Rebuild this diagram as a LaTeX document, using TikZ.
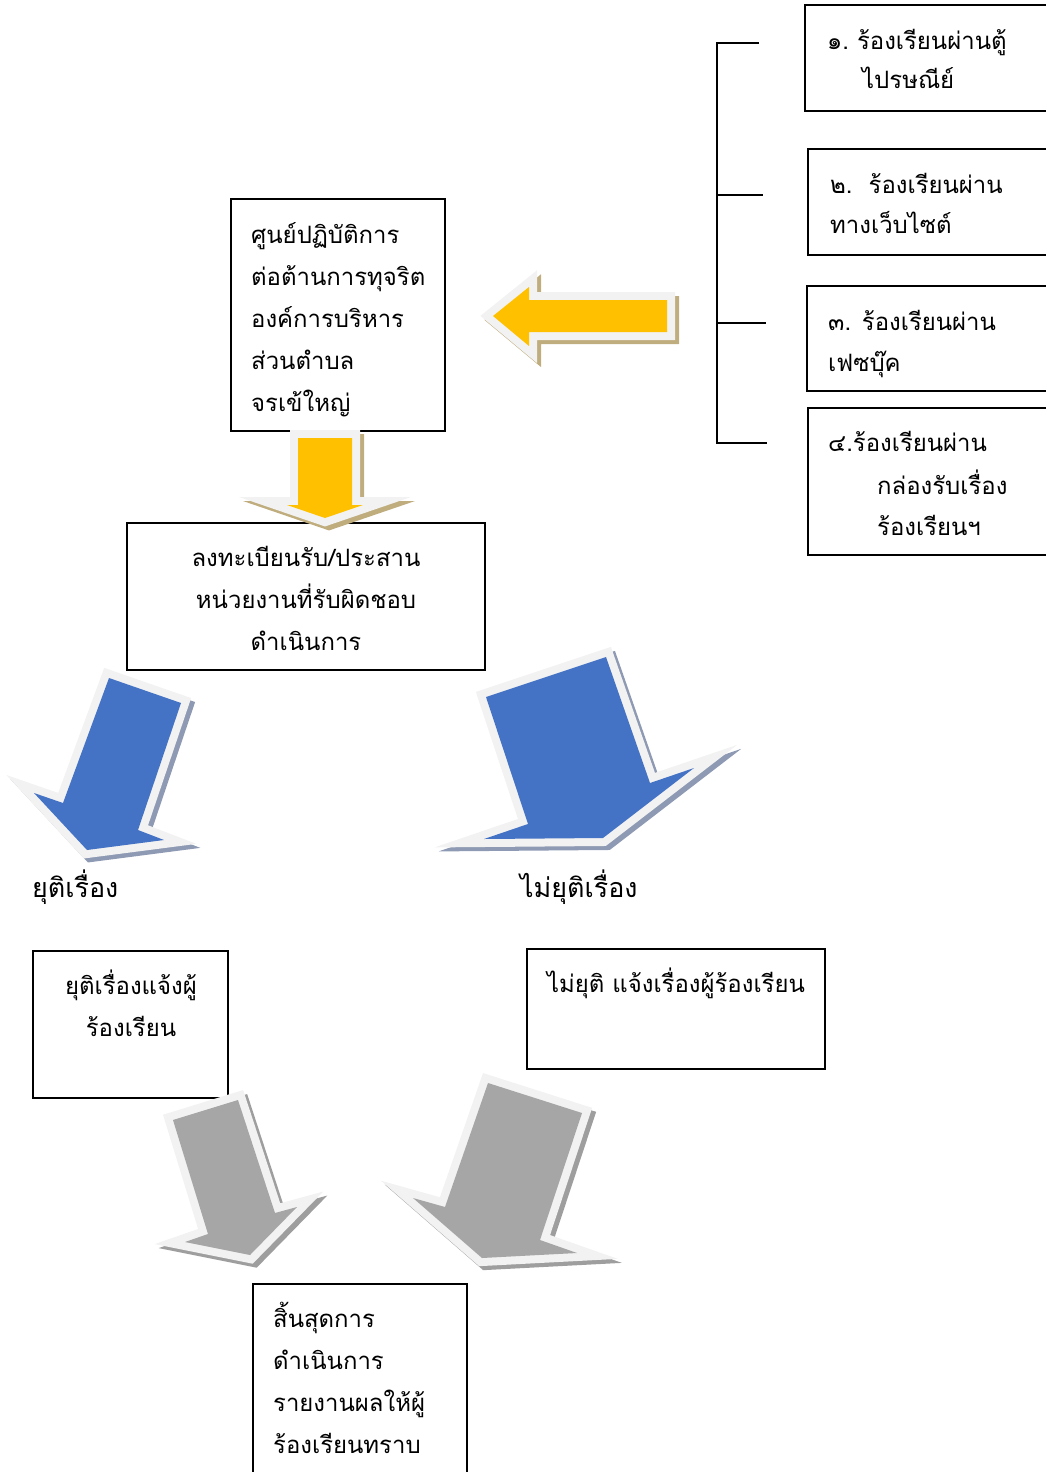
\documentclass[tikz,border=0pt]{standalone}
\usepackage{fontspec}
\newfontfamily\thaifont[Script=Thai]{Loma}
\definecolor{arrowyellow}{HTML}{FFC000}
\definecolor{arrowblue}{HTML}{4472C4}
\definecolor{arrowgray}{HTML}{A6A6A6}
\definecolor{rimgray}{HTML}{F2F2F2}
\definecolor{shadetan}{HTML}{C0AD7E}
\definecolor{shadeblue}{HTML}{8E9AB3}
\definecolor{shadegray}{HTML}{9E9E9E}
\tikzset{
  box/.style={draw,line width=1.5bp,inner sep=0pt},
  txt/.style={font=\thaifont\fontsize{24}{42}\selectfont,inner sep=0pt,align=left,anchor=base west},
  ctxt/.style={txt,align=center,anchor=base},
  bigtxt/.style={txt,font=\thaifont\fontsize{27}{42}\selectfont},
  rim/.style={draw=rimgray,fill=rimgray,line width=16bp,line join=miter},
}
% shadow, fill, outline of the arrow
\newcommand\fancyarrow[3]{%
  \draw[rim,draw=#1,fill=#1,shift={(4,4)}] #3 -- cycle;
  \draw[rim] #3 -- cycle;
  \fill[#2] #3 -- cycle;}
\begin{document}
\begin{tikzpicture}[x=1bp,y=-1bp]
  \useasboundingbox (0,0) rectangle (1045,1472);
  %% channels
  \node (Post) at (930,58) [box,minimum width=250bp,minimum height=106bp] {};
  \node (Web) at (931.5,202) [box,minimum width=247bp,minimum height=106bp] {};
  \node (Face) at (931,338.5) [box,minimum width=248bp,minimum height=105bp] {};
  \node (Mail) at (931.5,481.5) [box,minimum width=247bp,minimum height=147bp] {};
  % base of a text node is the base of its last line
  \node (PostText) at (827,89) [txt] {๑.\ ร้องเรียนผ่านตู้\\[-2bp]\hspace*{35bp}ไปรษณีย์};
  \node (WebText) at (830,233) [txt] {๒.\ \ ร้องเรียนผ่าน\\[-2bp]ทางเว็บไซต์};
  \node (FaceText) at (828,371) [txt] {๓. ร้องเรียนผ่าน\\[-1bp]เฟซบุ๊ค};
  \node (MailText) at (828,535) [txt] {๔.ร้องเรียนผ่าน\\[1bp]\hspace*{49bp}กล่องรับเรื่อง\\[-1bp]\hspace*{49bp}ร้องเรียนฯ};
  %% bracket
  \coordinate (PostTick) at (759,43);
  \coordinate (WebTick) at (763,195);
  \coordinate (FaceTick) at (766,323);
  \coordinate (MailTick) at (767,443);
  \draw [line width=1.5bp] (PostTick) -- (717,43) -- (717,443) -- (MailTick);
  \draw [line width=1.5bp] (717,195) -- (WebTick);
  \draw [line width=1.5bp] (717,323) -- (FaceTick);
  %% centre
  \node (Centre) at (338,315) [box,minimum width=214bp,minimum height=232bp] {};
  \node (CentreText) at (251,411) [txt] {ศูนย์ปฏิบัติการ\\ต่อต้านการทุจริต\\องค์การบริหาร\\ส่วนตำบล\\จรเข้ใหญ่};
  \node (Reg) at (306,596.5) [box,minimum width=358bp,minimum height=147bp] {};
  \node (RegText) at (306,650) [ctxt] {ลงทะเบียนรับ/ประสาน\\หน่วยงานที่รับผิดชอบ\\ดำเนินการ};
  %% yellow arrows
  \fancyarrow{shadetan}{arrowyellow}{(493,316) -- (529,287) -- (529,300) -- (667,300) -- (667,332) -- (529,332) -- (529,346)}
  \fancyarrow{shadetan}{arrowyellow}{(298,438) -- (352,438) -- (352,505) -- (363,505) -- (325,518) -- (287,505) -- (298,505)}
  %% blue arrows
  \fancyarrow{shadeblue}{arrowblue}{(109,678) -- (181,703) -- (138,830) -- (164,840) -- (87,850) -- (34,793) -- (63,803)}
  \fancyarrow{shadeblue}{arrowblue}{(486,697) -- (606,657) -- (650,783) -- (694,768) -- (603,838) -- (484,839) -- (528,824)}
  \node (Stop) at (32,897) [bigtxt] {ยุติเรื่อง};
  \node (Go) at (520,897) [bigtxt] {ไม่ยุติเรื่อง};
  %% outcomes
  \node (StopBox) at (130.5,1024.5) [box,minimum width=195bp,minimum height=147bp] {};
  \node (StopText) at (131,1036) [ctxt] {ยุติเรื่องแจ้งผู้\\ร้องเรียน};
  \node (GoBox) at (676,1009) [box,minimum width=298bp,minimum height=120bp] {};
  \node (GoText) at (676,992) [ctxt] {ไม่ยุติ แจ้งเรื่องผู้ร้องเรียน};
  %% gray arrows
  \fancyarrow{shadegray}{arrowgray}{(173,1120) -- (238,1100) -- (275,1213) -- (297,1207) -- (250,1255) -- (185,1242) -- (208,1234)}
  \fancyarrow{shadegray}{arrowgray}{(488,1083) -- (582,1113) -- (540,1240) -- (577,1253) -- (482,1258) -- (413,1198) -- (445,1207)}
  %% end
  \node (End) at (360,1382) [box,minimum width=214bp,minimum height=196bp] {};
  \node (EndText) at (273,1453) [txt] {สิ้นสุดการ\\ดำเนินการ\\รายงานผลให้ผู้\\ร้องเรียนทราบ};
\end{tikzpicture}
\end{document}
